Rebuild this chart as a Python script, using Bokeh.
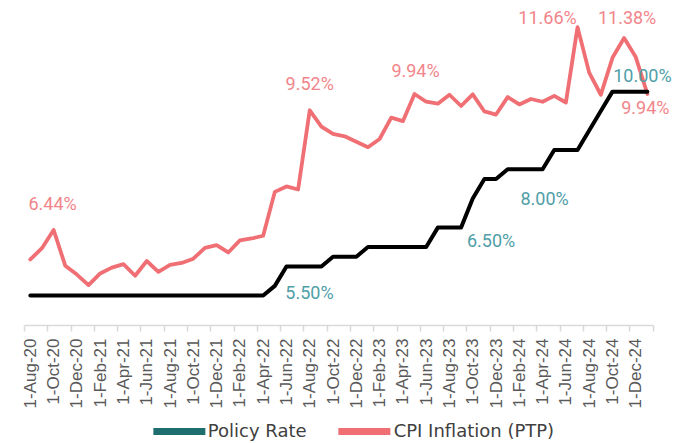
import math
from bokeh.plotting import figure
from bokeh.layouts import column
from bokeh.models import (FixedTicker, Range1d, Legend, LegendItem, LabelSet,
                          ColumnDataSource)
from bokeh.core.properties import value
from bokeh.embed import file_html
from bokeh.resources import INLINE

# ---------------- data ----------------
months = ["Aug-20", "Sep-20", "Oct-20", "Nov-20", "Dec-20",
          "Jan-21", "Feb-21", "Mar-21", "Apr-21", "May-21", "Jun-21",
          "Jul-21", "Aug-21", "Sep-21", "Oct-21", "Nov-21", "Dec-21",
          "Jan-22", "Feb-22", "Mar-22", "Apr-22", "May-22", "Jun-22",
          "Jul-22", "Aug-22", "Sep-22", "Oct-22", "Nov-22", "Dec-22",
          "Jan-23", "Feb-23", "Mar-23", "Apr-23", "May-23", "Jun-23",
          "Jul-23", "Aug-23", "Sep-23", "Oct-23", "Nov-23", "Dec-23",
          "Jan-24", "Feb-24", "Mar-24", "Apr-24", "May-24", "Jun-24",
          "Jul-24", "Aug-24", "Sep-24", "Oct-24", "Nov-24", "Dec-24",
          "Jan-25"]

cpi_inflation = [5.68, 5.97, 6.44, 5.52, 5.29,
                 5.02, 5.32, 5.47, 5.56, 5.26, 5.64,
                 5.36, 5.54, 5.59, 5.70, 5.98, 6.05,
                 5.86, 6.17, 6.22, 6.29, 7.42, 7.56,
                 7.48, 9.52, 9.10, 8.91, 8.85, 8.71,
                 8.57, 8.78, 9.33, 9.24, 9.94, 9.74,
                 9.69, 9.92, 9.63, 9.93, 9.49, 9.41,
                 9.86, 9.67, 9.81, 9.74, 9.89, 9.72,
                 11.66, 10.49, 9.92, 10.87, 11.38, 10.89,
                 9.94]

policy_rate = [4.75, 4.75, 4.75, 4.75, 4.75,
               4.75, 4.75, 4.75, 4.75, 4.75, 4.75,
               4.75, 4.75, 4.75, 4.75, 4.75, 4.75,
               4.75, 4.75, 4.75, 4.75, 5.00, 5.50,
               5.50, 5.50, 5.50, 5.75, 5.75, 5.75,
               6.00, 6.00, 6.00, 6.00, 6.00, 6.00,
               6.50, 6.50, 6.50, 7.25, 7.75, 7.75,
               8.00, 8.00, 8.00, 8.00, 8.50, 8.50,
               8.50, 9.00, 9.50, 10.00, 10.00, 10.00,
               10.00]

# tick labels (every second month)
tick_months = months[0:53:2]
tick_labels = ["1-" + m for m in tick_months]

# annotated points
cpi_labelled = ["Oct-20", "Aug-22", "May-23", "Jul-24", "Nov-24", "Jan-25"]
policy_labelled = ["Jun-22", "Sep-23", "Apr-24", "Jan-25"]

series_names = ["Policy Rate", "CPI Inflation (PTP)"]

# ---------------- styles ----------------
CPI_COLOR = "#EF6F74"
CPI_TEXT = "#F2858A"
POLICY_COLOR = "#000000"
POLICY_LEGEND = "#1E6E70"
POLICY_TEXT = "#4F9EA8"
LABEL_FONT = "Roboto"

n = len(months)
x = list(range(n))
idx_of = {m: i for i, m in enumerate(months)}

p = figure(frame_width=652, frame_height=317,
           output_backend="svg", toolbar_location=None,
           x_range=Range1d(-0.5, n + 1.5),
           y_range=Range1d(3.98, 12.14),
           min_border_left=24, min_border_right=0,
           min_border_top=8, min_border_bottom=0)
p.outline_line_color = None
p.xgrid.visible = False
p.ygrid.visible = False
p.yaxis.visible = False
p.background_fill_color = "white"

# lines
p.line(x, cpi_inflation, line_color=CPI_COLOR, line_width=3.8,
       line_join="round", line_cap="round")
p.line(x, policy_rate, line_color=POLICY_COLOR, line_width=4,
       line_join="round", line_cap="round")

# x axis
ax = p.xaxis[0]
ax.bounds = (-0.5, n - 0.5)
ax.ticker = FixedTicker(ticks=[idx_of[m] for m in tick_months],
                        minor_ticks=[i - 0.5 for i in range(0, n + 1, 2)])
ax.major_label_overrides = {idx_of[m]: lab for m, lab in zip(tick_months, tick_labels)}
ax.major_label_orientation = math.pi / 2
ax.major_label_text_font = "Liberation Sans"
ax.major_label_text_font_size = "17px"
ax.major_label_text_color = "#595959"
ax.axis_line_color = "#D9D9D9"
ax.axis_line_width = 1.5
ax.major_tick_line_color = None
ax.major_tick_out = 5
ax.major_tick_in = 0
ax.major_label_standoff = 7
ax.minor_tick_line_color = "#D9D9D9"
ax.minor_tick_line_width = 1.5
ax.minor_tick_out = 6
ax.minor_tick_in = 0

# data labels
cpi_offsets = {"Oct-20": (-1, 26), "Aug-22": (0, 27), "May-23": (1, 23),
               "Jul-24": (-30, 10), "Nov-24": (3, 21), "Jan-25": (-2, -14)}
pol_offsets = {"Jun-22": (23, -26), "Sep-23": (30, -13), "Apr-24": (2, -29),
               "Jan-25": (-5, 16)}

cpi_src = ColumnDataSource(dict(
    x=[idx_of[m] for m in cpi_labelled],
    y=[cpi_inflation[idx_of[m]] for m in cpi_labelled],
    text=["%.2f%%" % cpi_inflation[idx_of[m]] for m in cpi_labelled],
    dx=[cpi_offsets[m][0] for m in cpi_labelled],
    dy=[cpi_offsets[m][1] for m in cpi_labelled]))
pol_src = ColumnDataSource(dict(
    x=[idx_of[m] for m in policy_labelled],
    y=[policy_rate[idx_of[m]] for m in policy_labelled],
    text=["%.2f%%" % policy_rate[idx_of[m]] for m in policy_labelled],
    dx=[pol_offsets[m][0] for m in policy_labelled],
    dy=[pol_offsets[m][1] for m in policy_labelled]))

for src, col in ((cpi_src, CPI_TEXT), (pol_src, POLICY_TEXT)):
    ls = LabelSet(x="x", y="y", text="text", x_offset="dx", y_offset="dy",
                  source=src, text_align="center", text_baseline="middle",
                  text_color=col, text_font=value(LABEL_FONT),
                  text_font_size="18px")
    p.add_layout(ls)

# ---------------- legend strip (separate small figure) ----------------
# the series are drawn here outside the visible range, only to feed the legend
lg = figure(width=683, height=32, output_backend="svg", toolbar_location=None,
            x_range=Range1d(-3, -2), y_range=Range1d(-3, -2),
            min_border_left=0, min_border_right=0,
            min_border_top=0, min_border_bottom=0)
lg.outline_line_color = None
lg.axis.visible = False
lg.grid.visible = False
d1 = lg.line(x, policy_rate, line_color=POLICY_LEGEND, line_width=7, line_cap="round")
d2 = lg.line(x, cpi_inflation, line_color=CPI_COLOR, line_width=7, line_cap="round")
legend = Legend(items=[LegendItem(label=series_names[0], renderers=[d1]),
                       LegendItem(label=series_names[1], renderers=[d2])],
                orientation="horizontal", location="bottom_center",
                glyph_width=52, glyph_height=16, label_standoff=3,
                spacing=32, padding=0, margin=2, label_height=16,
                label_text_font="DejaVu Sans", label_text_font_size="18px",
                label_text_color="#404040",
                border_line_color=None, background_fill_alpha=0)
lg.add_layout(legend)

layout = column(p, lg, spacing=0)
open("out.html", "w").write(file_html(layout, INLINE))
